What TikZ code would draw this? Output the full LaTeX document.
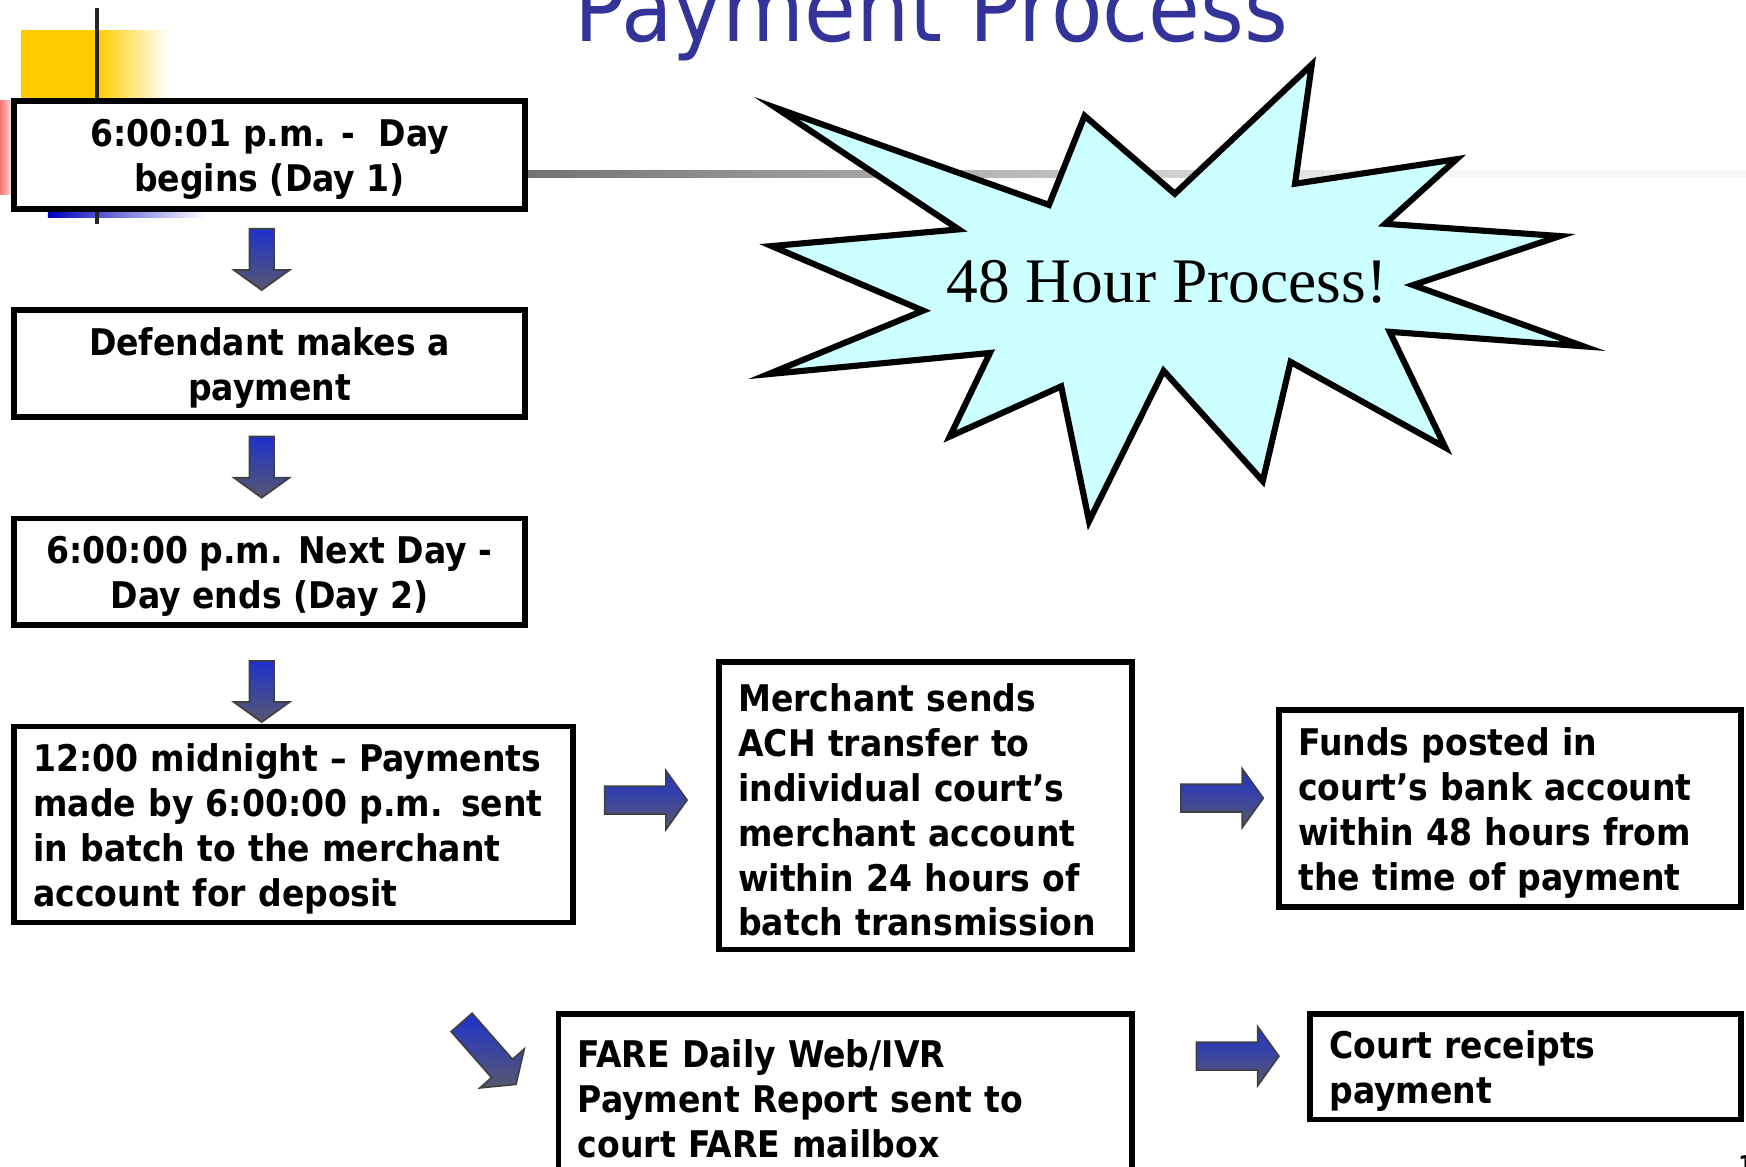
\documentclass[tikz,border=0pt]{standalone}
\usepackage{fontspec}
\usetikzlibrary{calc}
\newfontfamily\tahomalike{DejaVu Sans Condensed}
\newfontfamily\timeslike{Liberation Serif}
\newcommand\boxtext{\tahomalike\bfseries\fontsize{33}{40.3}\selectfont}
\newcommand\topstrut{\rule{0pt}{33pt}}
\definecolor{titleblue}{RGB}{51,51,153}
\definecolor{starfill}{RGB}{204,255,255}
\definecolor{arrowblue}{RGB}{30,50,205}
\definecolor{arrowgray}{RGB}{88,88,112}
\definecolor{decoyellow}{RGB}{255,204,0}
\tikzset{
  box/.style={draw=black, line width=5pt, fill=white, inner xsep=17.5pt, inner ysep=0pt, font=\boxtext, execute at begin node={\topstrut}},
  cbox/.style={draw=black, line width=5pt, fill=white, inner xsep=17.5pt, inner ysep=0pt, font=\boxtext, minimum width=459pt, align=center},
  arrowfill/.style={draw=black!75, line width=1.5pt, top color=arrowblue, bottom color=arrowgray},
  darrow/.pic={\shade[arrowfill] (-11,-27.5) -- (11,-27.5) -- (11,9.5) -- (25,9.5) -- (0,27.5) -- (-25,9.5) -- (-11,9.5) -- cycle;},
  rarrow/.pic={\shade[arrowfill] (-37,-12.5) -- (18,-12.5) -- (18,-26.5) -- (37,0) -- (18,26.5) -- (18,12.5) -- (-37,12.5) -- cycle;},
  starshape/.style={draw=black, line width=5.5pt, fill=starfill, line join=miter, miter limit=20}
}
\begin{document}
\begin{tikzpicture}[x=1pt,y=-1pt]
\useasboundingbox (0,0) rectangle (1568,1048);
\clip (0,0) rectangle (1568,1048);
% template decoration
\fill[decoyellow] (19,27) rectangle (87,88);
\shade[left color=decoyellow, right color=white] (87,27) rectangle (152,88);
\shade[left color=red!55, right color=white] (0,90) rectangle (14,175);
\shade[left color=blue!75!black, right color=white] (43,189) rectangle (185,195);
\draw[line width=4pt, black!85] (87,7) -- (87,201);
% title
\node[anchor=base west, inner sep=0pt, text=titleblue, font=\tahomalike\fontsize{84}{84}\selectfont] (title) at (516,37) {Payment Process};
% gray rule (behind the starburst)
\shade[left color=black!55, right color=black!3] (474,153) rectangle (1300,159);
\fill[black!3] (1300,153) rectangle (1568,159);
% starburst
\draw[starshape] (697,97) -- (942,184) -- (974,104) -- (1055,174) -- (1178,58) -- (1163,165)
  -- (1308,143) -- (1244,201) -- (1401,212) -- (1269,256) -- (1422,311) -- (1248,298)
  -- (1298,402) -- (1159,325) -- (1134,432) -- (1045,333) -- (978,468) -- (953,347)
  -- (853,392) -- (889,317) -- (690,336) -- (829,279) -- (693,221) -- (861,206) -- cycle;
\node[font=\timeslike\fontsize{57}{57}\selectfont, inner sep=0pt] (starlabel) at (1048,253) {48 Hour Process!};
% boxes
\node[cbox, minimum height=97pt] (b1) at (242,139) {\topstrut 6:00:01 p.m. -\ \ Day\\begins (Day 1)};
\node[cbox, minimum height=96pt] (b2) at (242,326.5) {\topstrut Defendant makes a\\payment};
\node[cbox, minimum height=96pt] (b3) at (242,513.5) {\topstrut 6:00:00 p.m. Next Day -\\Day ends (Day 2)};
\node[box, text width=467pt, minimum height=176pt, align=left] (b4) at (263.5,740.5) {\mbox{12:00 midnight – Payments}\\\mbox{made by 6:00:00 p.m. sent}\\\mbox{in batch to the merchant}\\\mbox{account for deposit}};
\node[box, text width=336pt, minimum height=258pt, align=left] (b5) at (831,723.5) {\mbox{Merchant sends}\\\mbox{ACH transfer to}\\\mbox{individual court’s}\\\mbox{merchant account}\\\mbox{within 24 hours of}\\\mbox{batch transmission}};
\node[box, text width=380pt, minimum height=177pt, align=left] (b6) at (1356,726) {\mbox{Funds posted in}\\\mbox{court’s bank account}\\\mbox{within 48 hours from}\\\mbox{the time of payment}};
\node[box, text width=480pt, minimum height=145pt, align=left] (b7) at (759,983) {\mbox{FARE Daily Web/IVR}\\\mbox{Payment Report sent to}\\\mbox{court FARE mailbox}};
\node[box, text width=352pt, minimum height=95pt, align=left] (b8) at (1370,958) {\mbox{Court receipts}\\\mbox{payment}};
\node[anchor=north west, inner sep=0pt, font=\tahomalike\bfseries\fontsize{22}{22}\selectfont] (pagenum) at (1561,1038) {1};
% block arrows between boxes
\coordinate (d1) at ($(b2.north)+(-7,-43)$);
\coordinate (d2) at ($(b3.north)+(-7,-43.5)$);
\coordinate (d3) at ($(b4.north)+(-28.5,-29)$);
\coordinate (r1) at ($(b4.east)!0.5!(b5.west)+(0,-13.5)$);
\coordinate (r2) at ($(b5.east)!0.5!(b6.west)+(15,-8)$);
\coordinate (r3) at ($(b7.east)!0.5!(b8.west)+(15,-22)$);
\coordinate (g1) at ($(b7.west)+(-60,-37)$);
\pic at (d1) {darrow};
\pic at (d2) {darrow};
\pic at (d3) {darrow};
\pic at (r1) {rarrow};
\pic at (r2) {rarrow};
\pic at (r3) {rarrow};
\pic[rotate=-48.7] at (g1) {rarrow};
\end{tikzpicture}
\end{document}
